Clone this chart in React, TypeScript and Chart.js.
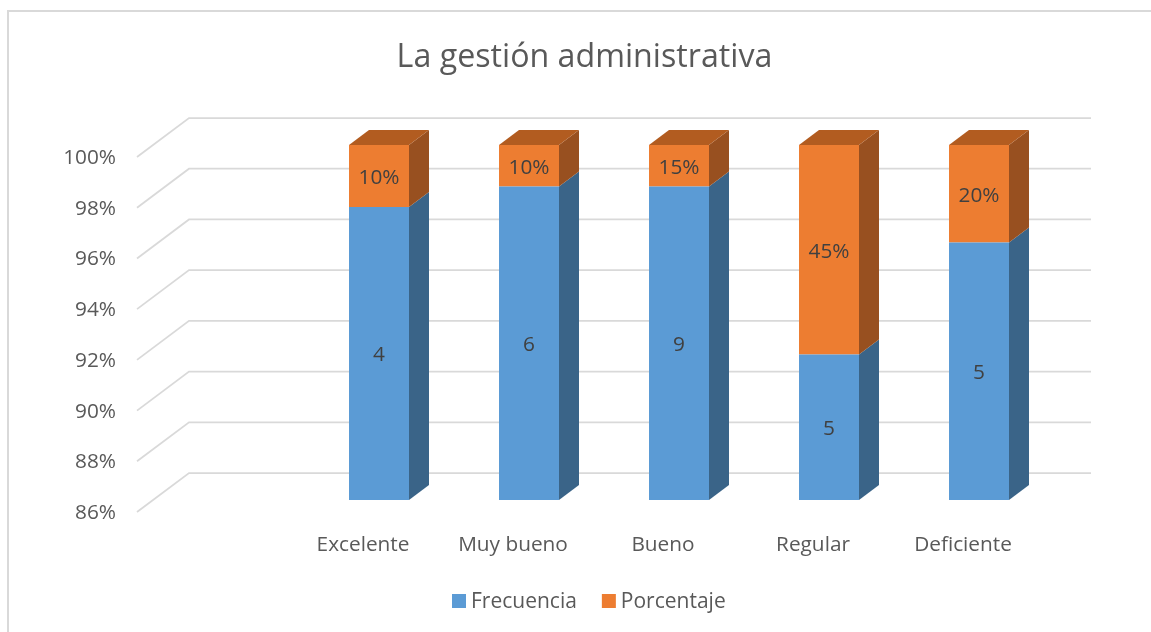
import React, { useEffect, useRef } from "react";
import { Chart, registerables } from "chart.js";

Chart.register(...registerables);

const categories = ["", "Excelente", "Muy bueno", "Bueno", "Regular", "Deficiente"];
const frecuencia = [null, 4, 6, 9, 5, 5];
const porcentaje = [null, 0.1, 0.1, 0.15, 0.45, 0.2];
const frontColors = ["#5B9BD5", "#ED7D31"];
const sideColors = ["#3A6488", "#985020"];
const topColors = ["#4A7EAD", "#B25C20"];
const textColor = "#595959";
const fontFamily = "'Open Sans', sans-serif";
const fontSize = 20.8;

const share = (a: (number | null)[], b: (number | null)[]) =>
  a.map((v, i) => (v === null ? null : (v as number) / ((v as number) + (b[i] as number))));

const DEPTH_X = 20;
const DEPTH_Y = 15;

const poly = (ctx: CanvasRenderingContext2D, pts: number[][], fill: string) => {
  ctx.beginPath();
  pts.forEach((p, i) => (i ? ctx.lineTo(p[0], p[1]) : ctx.moveTo(p[0], p[1])));
  ctx.closePath();
  ctx.fillStyle = fill;
  ctx.fill();
};

const framePlugin = {
  id: "frame",
  beforeDraw(chart: any) {
    const { ctx, width, height } = chart;
    ctx.save();
    ctx.fillStyle = "#FFFFFF";
    ctx.fillRect(0, 0, width, height);
    ctx.fillStyle = "#D9D9D9";
    ctx.fillRect(0, 0, 2, height);
    ctx.fillRect(0, 0, width, 2);
    ctx.restore();
  },
};

const wallPlugin = {
  id: "wall",
  beforeDatasetsDraw(chart: any) {
    const { ctx, scales, chartArea } = chart;
    ctx.save();
    ctx.strokeStyle = "#D9D9D9";
    ctx.lineWidth = 1.75;
    const startX = chartArea.left - 17;
    const backX = chartArea.left + 35;
    const endX = chartArea.right + 37;
    scales.y.ticks.forEach((t: any) => {
      const y = scales.y.getPixelForValue(t.value);
      ctx.beginPath();
      ctx.moveTo(startX, y + 12);
      ctx.lineTo(backX, y - 27);
      ctx.lineTo(endX, y - 27);
      ctx.stroke();
    });
    ctx.restore();
  },
};

const boxPlugin = {
  id: "box",
  afterDatasetsDraw(chart: any) {
    const { ctx, chartArea } = chart;
    ctx.save();
    chart.data.datasets.forEach((ds: any, di: number) => {
      chart.getDatasetMeta(di).data.forEach((bar: any, i: number) => {
        if (ds.data[i] === null) return;
        const right = bar.x + bar.width / 2;
        const left = bar.x - bar.width / 2;
        const top = bar.y;
        const bottom = Math.min(bar.base, chartArea.bottom);
        poly(ctx, [[right, top], [right + DEPTH_X, top - DEPTH_Y], [right + DEPTH_X, bottom - DEPTH_Y], [right, bottom]], sideColors[di]);
        if (di === chart.data.datasets.length - 1) {
          poly(ctx, [[left, top], [left + DEPTH_X, top - DEPTH_Y], [right + DEPTH_X, top - DEPTH_Y], [right, top]], topColors[di]);
        }
        const raw = ds.rawValues[i];
        ctx.fillStyle = "#404040";
        ctx.font = `${fontSize}px ${fontFamily}`;
        ctx.textAlign = "center";
        ctx.textBaseline = "middle";
        const label = di === 0 ? String(raw) : `${Math.round(raw * 100)}%`;
        ctx.fillText(label, bar.x, (top + bottom) / 2 + 2);
      });
    });
    ctx.restore();
  },
};

const legendPlugin = {
  id: "flatLegend",
  afterDraw(chart: any) {
    const { ctx } = chart;
    ctx.save();
    ctx.font = `21px ${fontFamily}`;
    ctx.textAlign = "left";
    ctx.textBaseline = "middle";
    let x = 445;
    chart.data.datasets.forEach((ds: any) => {
      ctx.fillStyle = ds.backgroundColor;
      ctx.fillRect(x, 584, 14, 14);
      ctx.fillStyle = textColor;
      ctx.fillText(ds.label, x + 19, 592.5);
      x += 19 + ctx.measureText(ds.label).width + 25;
    });
    ctx.restore();
  },
};

export default function App() {
  const ref = useRef<HTMLCanvasElement>(null);
  useEffect(() => {
    const chart = new Chart(ref.current as HTMLCanvasElement, {
      type: "bar",
      plugins: [framePlugin, wallPlugin, boxPlugin, legendPlugin],
      data: {
        labels: categories,
        datasets: [
          { label: "Frecuencia", data: share(frecuencia, porcentaje), rawValues: frecuencia, backgroundColor: frontColors[0] } as any,
          { label: "Porcentaje", data: share(porcentaje, frecuencia), rawValues: porcentaje, backgroundColor: frontColors[1] } as any,
        ],
      },
      options: {
        animation: false,
        responsive: false,
        layout: { padding: 0 },
        datasets: { bar: { barPercentage: 0.4, categoryPercentage: 1 } },
        plugins: {
          title: {
            display: true,
            text: "La gestión administrativa",
            color: textColor,
            font: { family: fontFamily, size: 32.2, weight: "normal" },
            padding: { top: 29, bottom: 67.4 },
          },
          legend: { display: false },
          tooltip: { enabled: false },
        },
        scales: {
          x: {
            stacked: true,
            grid: { display: false, drawTicks: false },
            border: { display: false },
            afterFit: (s: any) => { s.height = 132; },
            ticks: { color: textColor, font: { family: fontFamily, size: fontSize }, labelOffset: -16, padding: 33, maxRotation: 0, autoSkip: false },
          },
          y: {
            stacked: true,
            min: 0.86,
            max: 1,
            grid: { display: false, drawTicks: false },
            border: { display: false },
            afterFit: (s: any) => { s.width = 147; },
            ticks: {
              stepSize: 0.02,
              color: textColor,
              font: { family: fontFamily, size: fontSize },
              labelOffset: 13,
              padding: 38,
              callback: (v: any) => `${Math.round(Number(v) * 100)}%`,
            },
          },
          rightGap: {
            position: "right",
            grid: { display: false, drawTicks: false },
            border: { display: false },
            ticks: { display: false },
            afterFit: (s: any) => { s.width = 108; },
          },
        },
      },
    } as any);
    return () => chart.destroy();
  }, []);
  return (
    <div style={{ position: "fixed", left: 7, top: 10, width: 1144, height: 622, overflow: "hidden", background: "#fff" }}>
      <canvas ref={ref} width={1155} height={622} style={{ display: "block" }} />
    </div>
  );
}
